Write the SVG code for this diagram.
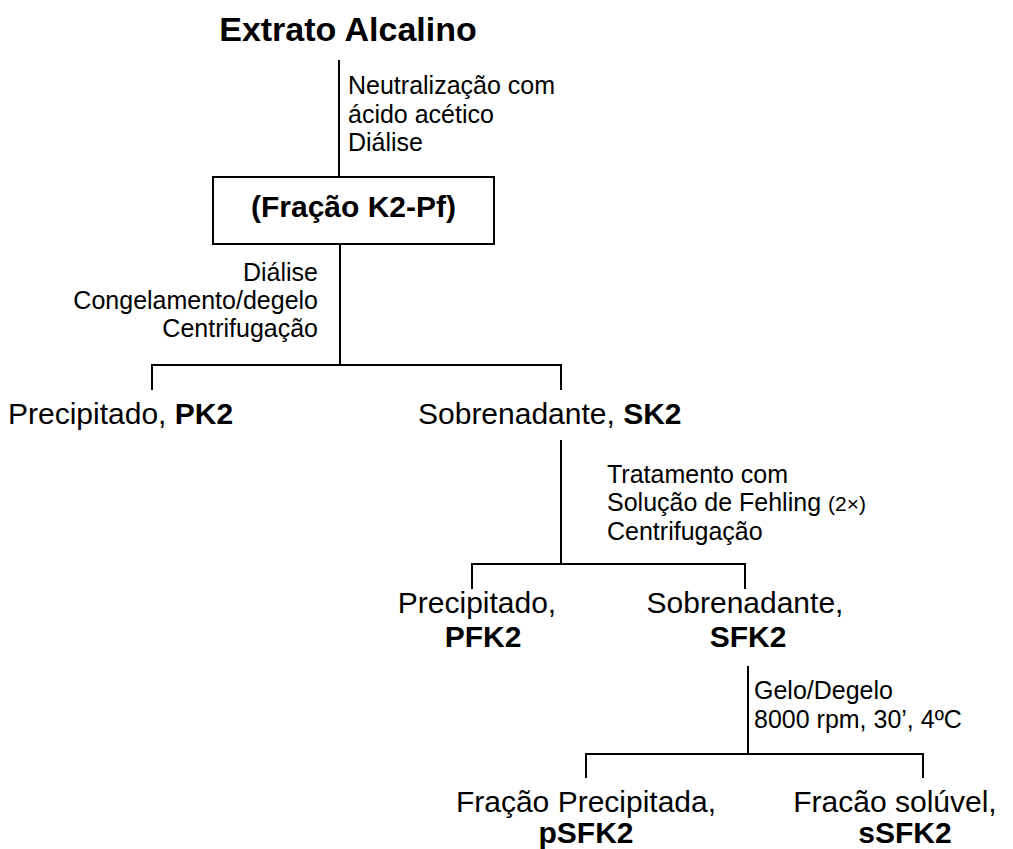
<svg xmlns="http://www.w3.org/2000/svg" width="1013" height="849" viewBox="0 0 1013 849">
<style>
text{font-family:"Liberation Sans",Arial,sans-serif;fill:#000}
.r{font-size:25px}
.b{font-weight:bold}
.t{font-size:34px;font-weight:bold}
.n{font-size:30px}
.ln{stroke:#000;stroke-width:2;fill:none}
</style>
<rect width="1013" height="849" fill="#fff"/>
<g id="connectors">
<path class="ln" d="M339,60V177"/>
<path class="ln" d="M340,244V365M152,390V365H561V390"/>
<path class="ln" d="M561,440V564M472,589V564H745V589"/>
<path class="ln" d="M748,666V754M586,778V754H923V778"/>
</g>
<g id="labels">
<text class="r" x="348" y="94">Neutralização com</text>
<text class="r" x="348" y="123"> ácido acético</text>
<text class="r" x="348" y="151">Diálise</text>
<text class="r" x="318" y="281" text-anchor="end">Diálise</text>
<text class="r" x="318" y="309" text-anchor="end">Congelamento/degelo</text>
<text class="r" x="318" y="337" text-anchor="end">Centrifugação</text>
<text class="r" x="607" y="483">Tratamento com</text>
<text class="r" x="607" y="511">Solução de Fehling <tspan font-size="21">(2×)</tspan></text>
<text class="r" x="607" y="540">Centrifugação</text>
<text class="r" x="754" y="699">Gelo/Degelo</text>
<text class="r" x="754" y="728">8000 rpm, 30’, 4ºC</text>
</g>
<g id="n-extrato"><text class="t" x="348" y="41" text-anchor="middle">Extrato Alcalino</text></g>
<g id="n-k2pf"><rect x="213" y="177" width="281" height="67" fill="#fff" stroke="#000" stroke-width="2"/><text x="353.5" y="217" text-anchor="middle" font-size="30" font-weight="bold">(Fração K2-Pf)</text></g>
<g id="n-pk2"><text class="n" x="8" y="424">Precipitado, <tspan class="b">PK2</tspan></text></g>
<g id="n-sk2"><text class="n" x="418" y="424">Sobrenadante, <tspan class="b">SK2</tspan></text></g>
<g id="n-pfk2"><text class="n" x="477" y="613" text-anchor="middle">Precipitado,</text><text class="n b" x="483" y="647" text-anchor="middle">PFK2</text></g>
<g id="n-sfk2"><text class="n" x="745" y="613" text-anchor="middle">Sobrenadante,</text><text class="n b" x="748" y="647" text-anchor="middle">SFK2</text></g>
<g id="n-psfk2"><text class="n" x="586" y="812" text-anchor="middle">Fração Precipitada,</text><text class="n b" x="586" y="843" text-anchor="middle">pSFK2</text></g>
<g id="n-ssfk2"><text class="n" x="895" y="812" text-anchor="middle">Fracão solúvel,</text><text class="n b" x="905" y="843" text-anchor="middle">sSFK2</text></g>
</svg>
